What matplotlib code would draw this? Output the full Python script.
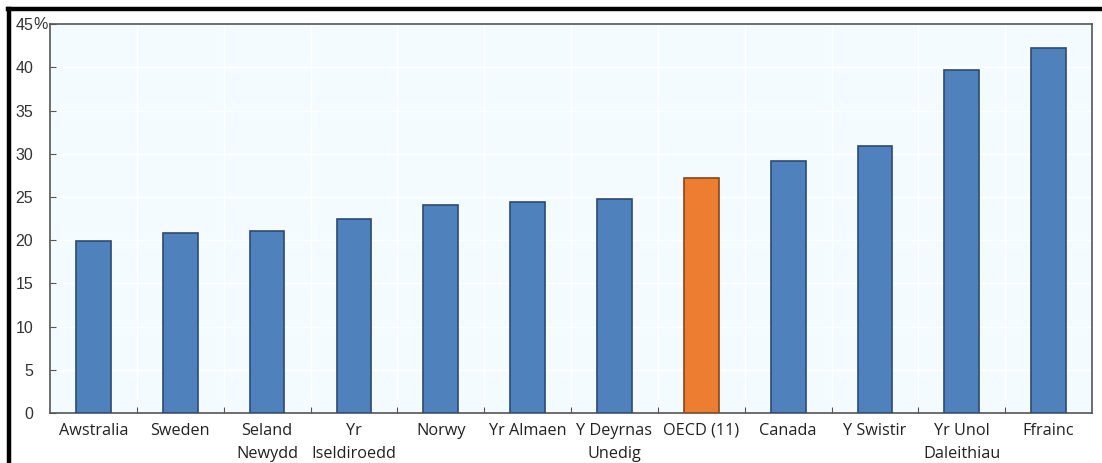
import matplotlib.pyplot as plt
from matplotlib.lines import Line2D

countries = ['Awstralia', 'Sweden', 'Seland\nNewydd', 'Yr\nIseldiroedd', 'Norwy',
             'Yr Almaen', 'Y Deyrnas\nUnedig', 'OECD (11)', 'Canada', 'Y Swistir',
             'Yr Unol\nDaleithiau', 'Ffrainc']
shares = [19.9, 20.8, 21.0, 22.4, 24.1, 24.4, 24.8, 27.2, 29.2, 30.9, 39.7, 42.2]
highlight = 'OECD (11)'
yticks = [0, 5, 10, 15, 20, 25, 30, 35, 40, 45]

BLUE = '#4f81bd'
BLUE_EDGE = '#2c4a74'
ORANGE = '#ed7d31'
ORANGE_EDGE = '#8a4517'
BG = '#f3fbff'

fig = plt.figure(figsize=(11.02, 4.63), dpi=100)
ax = fig.add_axes([0.0454, 0.108, 0.9456, 0.840])
ax.set_facecolor(BG)

x = list(range(len(countries)))
colors = [ORANGE if c == highlight else BLUE for c in countries]
edges = [ORANGE_EDGE if c == highlight else BLUE_EDGE for c in countries]
ax.bar(x, shares, width=0.4, color=colors, edgecolor=edges, linewidth=1.2, zorder=3)

ax.set_xlim(-0.5, len(countries) - 0.5)
ax.set_ylim(0, 45)

# category separators as inward ticks on the bottom axis
ax.set_xticks([i + 0.5 for i in range(len(countries) - 1)], minor=False)
ax.set_xticklabels([])
ax.set_xticks(x, minor=True)
ax.set_xticklabels(countries, minor=True, fontsize=11.7, color='#222222',
                   family=['Open Sans', 'DejaVu Sans'], linespacing=1.6, va='top')
ax.tick_params(axis='x', which='minor', length=0, pad=7)
ax.tick_params(axis='x', which='major', direction='in', length=4, color='#555555')

ax.set_yticks(yticks)
ax.set_yticklabels([str(v) for v in yticks], fontsize=11.5, color='#333333',
                   family=['Liberation Sans', 'DejaVu Sans'])
ax.tick_params(axis='y', direction='in', length=4, color='#555555', pad=12)
ax.text(-0.0095, 1.0, '%', transform=ax.transAxes, ha='center', va='center',
        fontsize=11.5, color='#333333', family=['Liberation Sans', 'DejaVu Sans'])

ax.grid(True, axis='both', which='major', color='white', linewidth=1.0, zorder=0)
ax.set_axisbelow(True)

for side in ['left', 'bottom', 'top', 'right']:
    ax.spines[side].set_color('#555555')
    ax.spines[side].set_linewidth(1.2)

# heavy black frame on the top and left of the figure
fig.add_artist(Line2D([0.0075, 1.0], [0.9795, 0.9795], color='black', linewidth=3.2,
                      transform=fig.transFigure))
fig.add_artist(Line2D([0.0085, 0.0085], [0.0, 0.981], color='black', linewidth=3.2,
                      transform=fig.transFigure))

fig.savefig('out.png', dpi=100, facecolor='white')
